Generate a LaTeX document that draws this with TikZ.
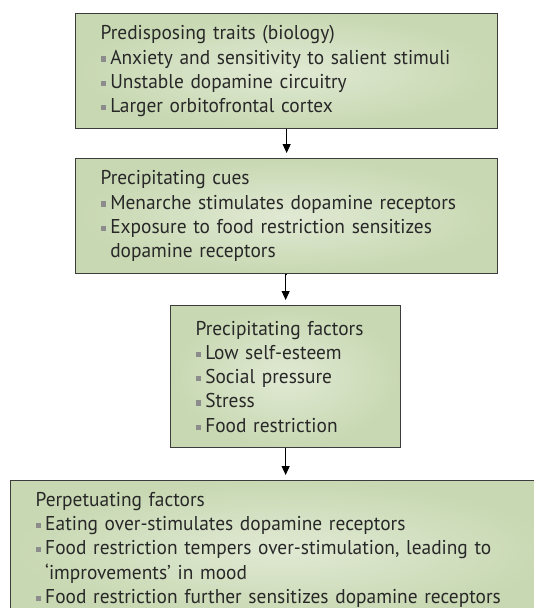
\documentclass[tikz,border=0pt]{standalone}
\usepackage{fontspec}
\setmainfont{PT Sans}[FakeStretch=0.97]
\usetikzlibrary{arrows.meta}
\definecolor{boxin}{RGB}{224,233,211}
\definecolor{boxout}{RGB}{200,216,178}
\definecolor{boxline}{RGB}{60,60,60}
\definecolor{txt}{RGB}{40,40,40}
\definecolor{bulgray}{RGB}{140,140,140}
\newcommand{\bul}{\raisebox{0.12em}{\textcolor{bulgray}{\rule{0.26em}{0.26em}}}\hspace{0.22em}}
\newcommand{\ind}{\phantom{\bul}}
\begin{document}
\begin{tikzpicture}[x=1pt,y=-1pt,
  flowbox/.style={draw=boxline, line width=1.3pt, inner color=boxin, outer color=boxout,
    anchor=north west, inner xsep=25pt, inner ysep=0pt, align=left, text=txt,
    font=\fontsize{20}{24.3}\selectfont},
  flowarrow/.style={-{Triangle[length=9pt,width=8pt]}, line width=1pt, black, shorten >=5pt}]
\useasboundingbox (0,0) rectangle (534,608);
\begin{scope}
\clip (0,0) rectangle (534,608);
\node[flowbox, text width=372pt, minimum height=115pt] (b1) at (75,13)
  {Predisposing traits (biology)\\
   \bul Anxiety and sensitivity to salient stimuli\\
   \bul Unstable dopamine circuitry\\
   \bul Larger orbitofrontal cortex};
\node[flowbox, text width=372pt, minimum height=115pt] (b2) at (75,158)
  {Precipitating cues\\
   \bul Menarche stimulates dopamine receptors\\
   \bul Exposure to food restriction sensitizes\\
   \ind dopamine receptors};
\node[flowbox, text width=180pt, minimum height=142pt] (b3) at (170,305)
  {Precipitating factors\\
   \bul Low self-esteem\\
   \bul Social pressure\\
   \bul Stress\\
   \bul Food restriction};
\node[flowbox, text width=495pt, minimum height=138pt] (b4) at (10,480)
  {Perpetuating factors\\
   \bul Eating over-stimulates dopamine receptors\\
   \bul Food restriction tempers over-stimulation, leading to\\
   \ind ‘improvements’ in mood\\
   \bul Food restriction further sensitizes dopamine receptors};
\end{scope}
\draw[flowarrow] (b1.south) -- (b2.north);
\draw[flowarrow] (b2.south) -- (b3.south |- b2.south) -- (b3.north);
\draw[flowarrow] (b3.south) -- (b3.south |- b4.north);
\end{tikzpicture}
\end{document}
